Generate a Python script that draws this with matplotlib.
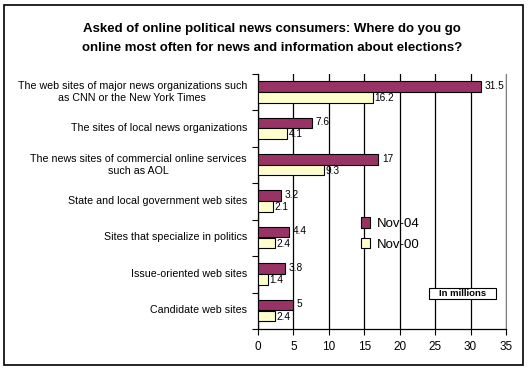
import matplotlib
matplotlib.use('Agg')
import matplotlib.pyplot as plt
from matplotlib.patches import Rectangle
import numpy as np

plt.rcParams['font.family'] = ['Liberation Sans', 'DejaVu Sans']

categories = [
    "The web sites of major news organizations such\nas CNN or the New York Times",
    "The sites of local news organizations",
    "The news sites of commercial online services\nsuch as AOL",
    "State and local government web sites",
    "Sites that specialize in politics",
    "Issue-oriented web sites",
    "Candidate web sites",
]
nov04 = [31.5, 7.6, 17, 3.2, 4.4, 3.8, 5]
nov00 = [16.2, 4.1, 9.3, 2.1, 2.4, 1.4, 2.4]
labels04 = ["31.5", "7.6", "17", "3.2", "4.4", "3.8", "5"]
labels00 = ["16.2", "4.1", "9.3", "2.1", "2.4", "1.4", "2.4"]
xticks = [0, 5, 10, 15, 20, 25, 30, 35]

W, H = 528, 374
fig = plt.figure(figsize=(W / 100, H / 100), dpi=100)

# outer frame
fig.patches.append(Rectangle((4 / W, 1 - 365 / H), 519 / W, 360 / H,
                             transform=fig.transFigure, fill=False,
                             edgecolor='black', linewidth=1.2))

fig.text(272 / W, 1 - 38.5 / H,
         "Asked of online political news consumers: Where do you go\n"
         "online most often for news and information about elections?",
         ha='center', va='center', fontsize=9.5, fontweight='bold',
         linespacing=1.85)

ax = fig.add_axes([258 / W, 1 - 329 / H, (506 - 258) / W, (329 - 74) / H])

pos = np.arange(len(categories))
h = 0.29
b1 = ax.barh(pos + 0.34, nov04, height=h, color='#993366', edgecolor='black',
             linewidth=0.8, label='Nov-04', zorder=3)
b2 = ax.barh(pos + 0.64, nov00, height=h, color='#FFFFCC', edgecolor='black',
             linewidth=0.8, label='Nov-00', zorder=3)

for y, v, t in zip(pos + 0.34, nov04, labels04):
    ax.text(v + 0.5, y - 0.02, t, va='center', ha='left', fontsize=7.3, zorder=4)
for y, v, t in zip(pos + 0.64, nov00, labels00):
    ax.text(v + 0.2, y + 0.02, t, va='center', ha='left', fontsize=7.3, zorder=4)

ax.set_xlim(0, 35)
ax.set_ylim(len(categories), 0)
ax.set_xticks(xticks)
ax.tick_params(axis='x', labelsize=8.5, length=4, direction='out', width=0.8, pad=5)

ax.set_yticks(np.arange(len(categories) + 1))
ax.set_yticklabels([])
ax.tick_params(axis='y', which='major', length=4, direction='out', width=0.8)
ax.set_yticks(pos + 0.45, minor=True)
ax.set_yticklabels(categories, minor=True, fontsize=7.7)
ax.tick_params(axis='y', which='minor', length=0, pad=8)
for lab in ax.get_yticklabels(minor=True):
    lab.set_multialignment('center')

ax.xaxis.grid(True, color='black', linewidth=0.9, zorder=0)
ax.set_axisbelow(True)
ax.spines['top'].set_visible(False)
ax.spines['right'].set_color('#808080')
ax.spines['left'].set_linewidth(0.9)
ax.spines['bottom'].set_linewidth(0.9)

fig.legend(handles=[b1, b2], loc='upper left',
           bbox_to_anchor=(354 / W, 1 - 210 / H), frameon=False,
           fontsize=9.5, handlelength=0.7, handleheight=0.9,
           handletextpad=0.5, labelspacing=0.6, borderpad=0)

# "In millions" note box
fig.patches.append(Rectangle((429 / W, 1 - 299 / H), 67 / W, 11 / H,
                             transform=fig.transFigure, facecolor='white',
                             edgecolor='black', linewidth=0.8, zorder=5))
fig.text(462.5 / W, 1 - 293.5 / H, "In millions", ha='center', va='center',
         fontsize=6.8, fontweight='bold', zorder=6)

fig.savefig('out.png', dpi=100)
